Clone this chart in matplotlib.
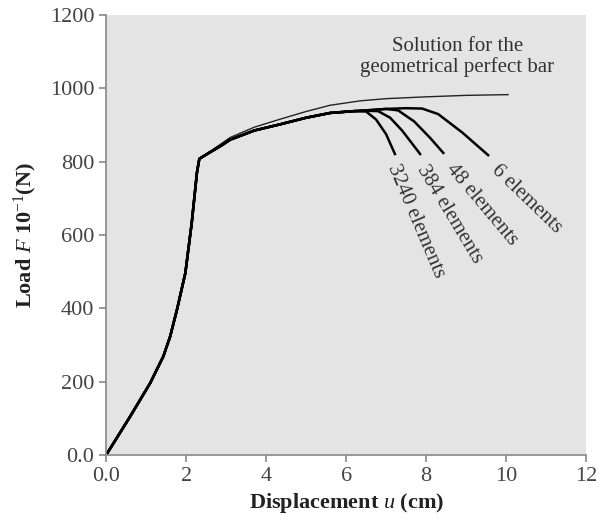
import matplotlib
matplotlib.use("Agg")
import matplotlib.pyplot as plt

plt.rcParams['font.family'] = ['Liberation Serif', 'DejaVu Serif']
plt.rcParams['mathtext.fontset'] = 'custom'
plt.rcParams['mathtext.rm'] = 'Liberation Serif'
plt.rcParams['mathtext.it'] = 'Liberation Serif:italic'
plt.rcParams['mathtext.bf'] = 'Liberation Serif:bold'

# shared part of all bold curves (elastic + early plastic)
u_common = [0, 0.6, 1.1, 1.43, 1.6, 1.77, 1.98, 2.14, 2.27, 2.33, 2.6, 2.85, 3.1, 3.7, 4.35, 5.0, 5.6, 6.2]
F_common = [0, 105, 196, 269, 323, 396, 496, 633, 770, 808, 826, 842, 860, 885, 902, 920, 933, 938]

# perfect bar continues above the others
u_perfect = [2.6, 2.85, 3.1, 3.7, 4.35, 5.0, 5.6, 6.35, 7.0, 8.0, 9.0, 10.05]
F_perfect = [828, 847, 866, 894, 916, 937, 954, 966, 972, 977, 981, 983]

# branches after the peak, one per mesh
mesh_labels = ['3240 elements', '384 elements', '48 elements', '6 elements']
u_branch = [
    [6.5, 6.75, 7.0, 7.22],
    [6.5, 6.8, 7.1, 7.4, 7.85],
    [6.5, 7.0, 7.3, 7.7, 8.1, 8.43],
    [6.5, 7.0, 7.5, 7.9, 8.3, 8.9, 9.55],
]
F_branch = [
    [937, 915, 875, 821],
    [939, 938, 920, 885, 821],
    [940, 944, 940, 910, 865, 824],
    [940, 944, 946, 945, 930, 880, 818],
]
label_pos = [(7.37, 800), (8.07, 800), (8.77, 805), (9.87, 803)]
label_rot = [-67, -59, -50, -44]

fig = plt.figure(figsize=(6.03, 5.25), dpi=100)
ax = fig.add_axes([0.176, 0.1333, 0.796, 0.838])
ax.set_facecolor('#e4e4e4')

ax.plot(u_common[:10] + u_perfect, F_common[:10] + F_perfect, color='#222222', lw=1.0,
        solid_joinstyle='round')
for ub, Fb in zip(u_branch, F_branch):
    ax.plot(u_common + ub, F_common + Fb, color='black', lw=1.8, solid_joinstyle='round')

for lab, (x, y), rot in zip(mesh_labels, label_pos, label_rot):
    ax.text(x, y, lab, rotation=rot, rotation_mode='anchor', ha='left', va='top',
            fontsize=15, color='#333333')

ax.text(8.78, 1085, 'Solution for the\ngeometrical perfect bar', ha='center', va='center',
        fontsize=15, color='#333333', linespacing=1.05)

ax.set_xlim(0, 12)
ax.set_ylim(0, 1200)
ax.set_xticks([0, 2, 4, 6, 8, 10, 12])
ax.set_xticklabels(['0.0', '2', '4', '6', '8', '10', '12'])
ax.set_yticks([0, 200, 400, 600, 800, 1000, 1200])
ax.set_yticklabels(['0.0', '200', '400', '600', '800', '1000', '1200'])

for s in ['top', 'right']:
    ax.spines[s].set_visible(False)
for s in ['left', 'bottom']:
    ax.spines[s].set_color('#888888')
    ax.spines[s].set_linewidth(1.2)
ax.tick_params(colors='#888888', labelcolor='#444444', labelsize=16, length=5, width=1.2)

ax.set_xlabel(r'Displacement $u$ (cm)', fontsize=16, fontweight='bold', color='#222222', labelpad=4)
ax.set_ylabel(r'Load $F$ 10$^{-1}$(N)', fontsize=16, fontweight='bold', color='#222222', labelpad=8)

fig.savefig('out.png', dpi=100)
